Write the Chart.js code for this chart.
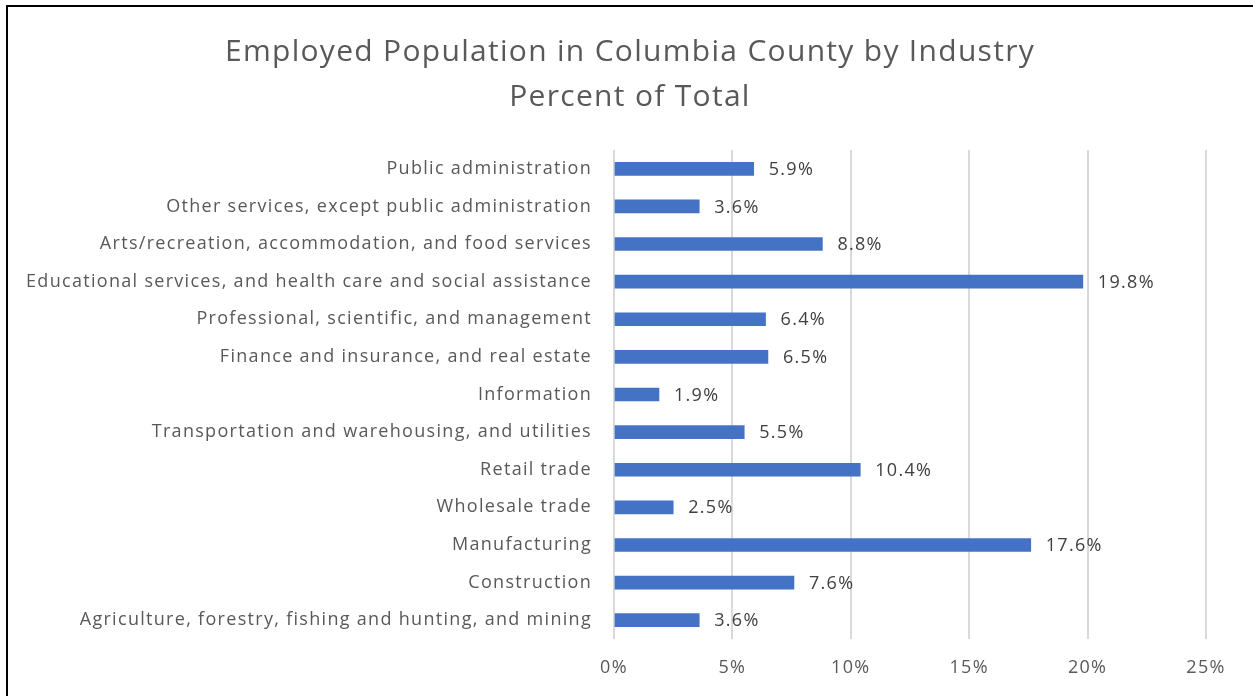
<!DOCTYPE html>
<html>
<head>
<meta charset="utf-8">
<script src="https://cdn.jsdelivr.net/npm/chart.js@4"></script>
<style>
  html, body { margin: 0; padding: 0; background: #fff; }
  #wrap { position: relative; width: 1253px; height: 696px; overflow: hidden; }
  #frame { position: absolute; left: 6px; top: 5px; width: 1300px; height: 800px;
           border-left: 2px solid #000; border-top: 2px solid #000; pointer-events: none; }
  canvas { position: absolute; left: 0; top: 0; }
</style>
</head>
<body>
<div id="wrap">
  <canvas id="industryChart" width="1253" height="696"></canvas>
  <div id="frame"></div>
</div>
<script>
const industries = [
  'Public administration',
  'Other services, except public administration',
  'Arts/recreation, accommodation, and food services',
  'Educational services, and health care and social assistance',
  'Professional, scientific, and management',
  'Finance and insurance, and real estate',
  'Information',
  'Transportation and warehousing, and utilities',
  'Retail trade',
  'Wholesale trade',
  'Manufacturing',
  'Construction',
  'Agriculture, forestry, fishing and hunting, and mining',
];
const percents = [5.9, 3.6, 8.8, 19.8, 6.4, 6.5, 1.9, 5.5, 10.4, 2.5, 17.6, 7.6, 3.6];
const xTicks = [0, 5, 10, 15, 20, 25];

const FONT = '"Open Sans", sans-serif';
const SPACING = '1.3px';

// wider letter spacing, closer to the original Calibri text
const spacing = {
  id: 'spacing',
  beforeLayout(chart) {
    chart.ctx.letterSpacing = SPACING;
  },
  beforeDraw(chart) {
    chart.ctx.letterSpacing = SPACING;
  },
};

// draw the value next to each bar
const valueLabels = {
  id: 'valueLabels',
  afterDatasetsDraw(chart) {
    const ctx = chart.ctx;
    const meta = chart.getDatasetMeta(0);
    ctx.save();
    ctx.letterSpacing = SPACING;
    ctx.font = '18px ' + FONT;
    ctx.fillStyle = '#404040';
    ctx.textAlign = 'left';
    ctx.textBaseline = 'middle';
    meta.data.forEach((bar, i) => {
      ctx.fillText(percents[i].toFixed(1) + '%', bar.x + 15, bar.y + 1);
    });
    ctx.restore();
  },
};

const ctx = document.getElementById('industryChart').getContext('2d');
new Chart(ctx, {
  type: 'bar',
  data: {
    labels: industries,
    datasets: [
      {
        label: 'Percent of Total',
        data: percents,
        backgroundColor: '#4472C4',
        borderWidth: 0,
        barThickness: 13,
      },
    ],
  },
  options: {
    indexAxis: 'y',
    responsive: false,
    animation: false,
    layout: { padding: { left: 10, right: 3, top: 0, bottom: 0 } },
    plugins: {
      legend: { display: false },
      tooltip: { enabled: false },
      title: {
        display: true,
        text: ['Employed Population in Columbia County by Industry', 'Percent of Total'],
        color: '#595959',
        font: { family: FONT, size: 30, weight: 'normal', lineHeight: 1.5 },
        padding: { top: 30, bottom: 30 },
      },
    },
    scales: {
      x: {
        min: 0,
        max: 25,
        afterBuildTicks: (scale) => {
          scale.ticks = xTicks.map((v) => ({ value: v }));
        },
        afterFit: (scale) => {
          scale.height = 57;
        },
        grid: { color: '#d9d9d9', lineWidth: 2, drawTicks: false },
        border: { display: false },
        ticks: {
          padding: 18,
          color: '#595959',
          font: { family: FONT, size: 18 },
          callback: (v) => v + '%',
        },
      },
      y: {
        afterFit: (scale) => {
          scale.width = 604;
        },
        grid: { display: false, drawTicks: false },
        border: { display: false },
        ticks: {
          padding: 22,
          color: '#595959',
          font: { family: FONT, size: 18 },
        },
      },
      // empty right-hand axis, only keeps room on the right
      yRight: {
        type: 'category',
        position: 'right',
        afterFit: (scale) => {
          scale.width = 44;
        },
        grid: { display: false, drawTicks: false },
        border: { display: false },
        ticks: { display: false },
      },
    },
  },
  plugins: [spacing, valueLabels],
});
</script>
</body>
</html>
